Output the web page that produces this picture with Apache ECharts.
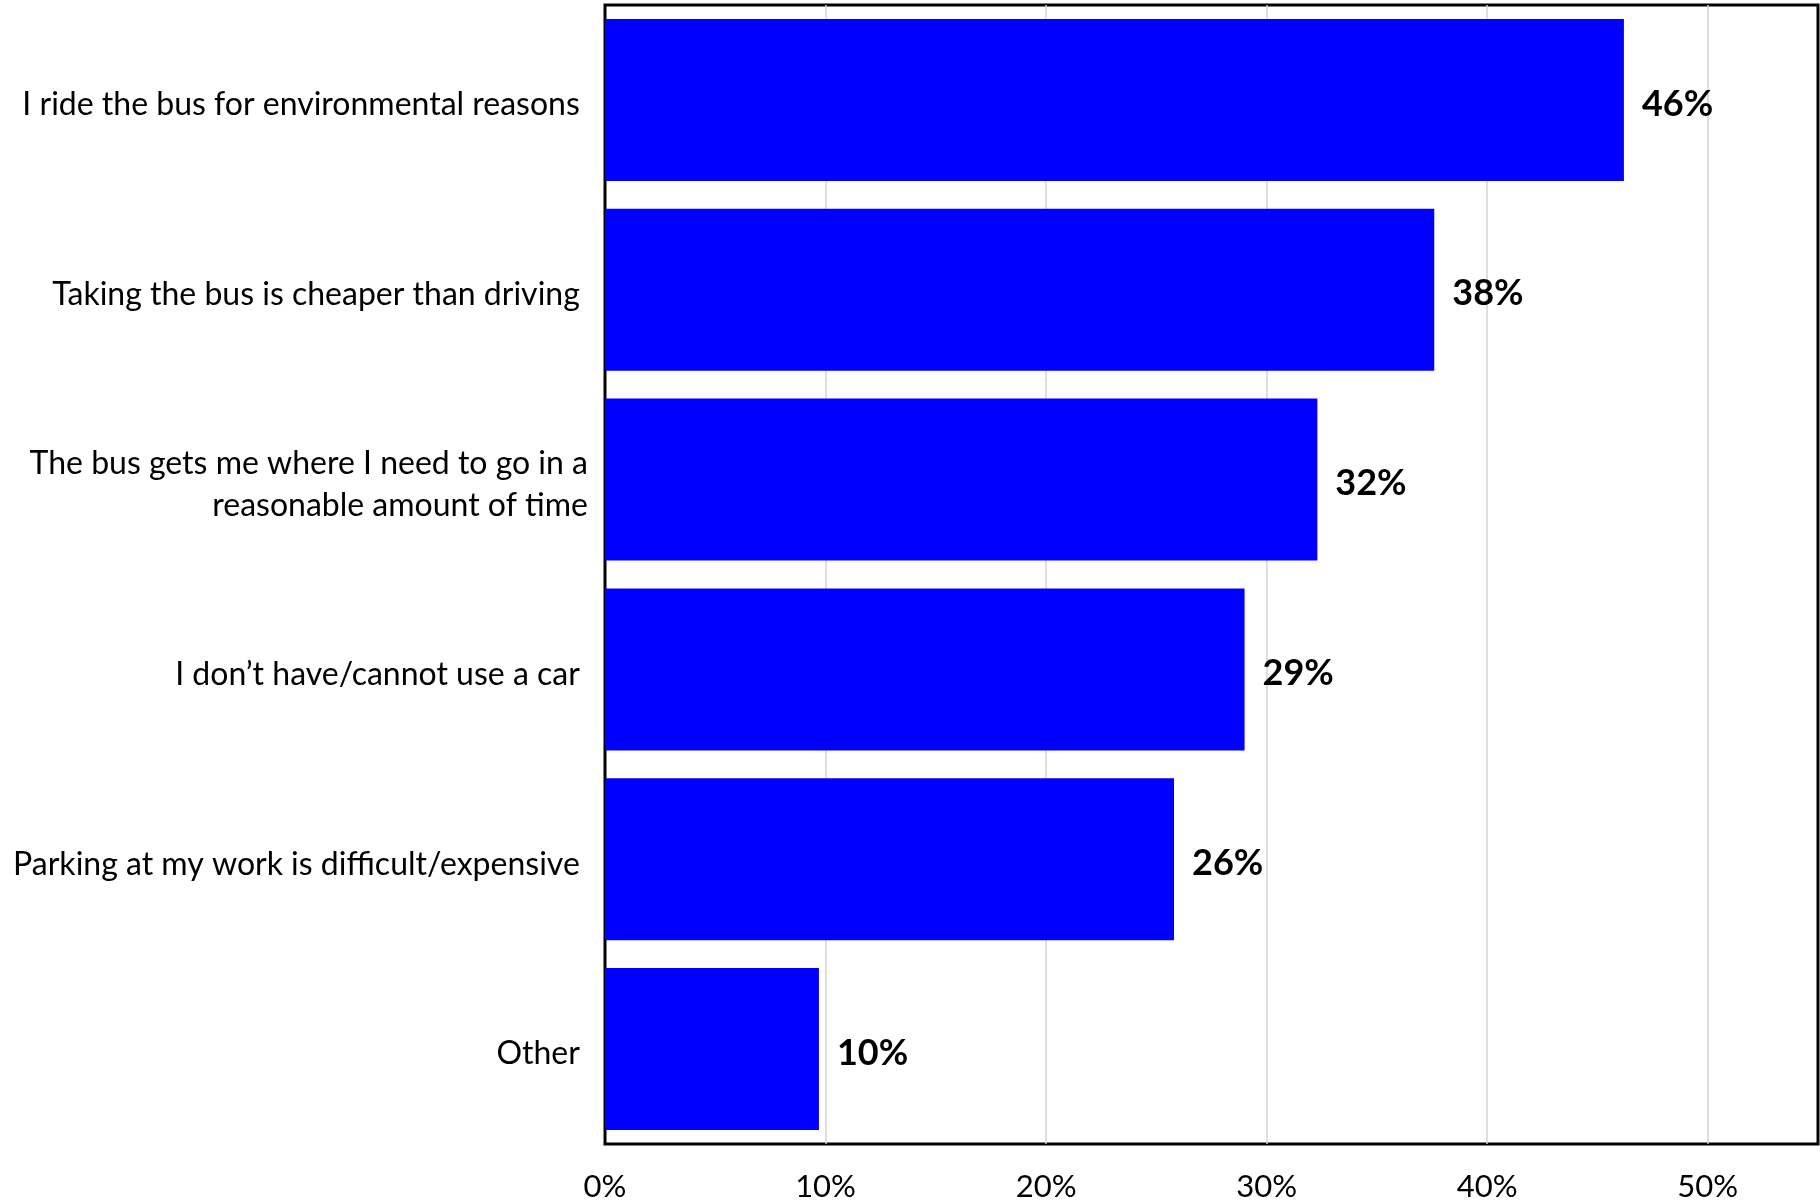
<!DOCTYPE html>
<html>
<head>
<meta charset="utf-8">
<title>Reasons for riding the bus</title>
<script src="https://cdn.jsdelivr.net/npm/echarts@6/dist/echarts.min.js"></script>
<style>
  html, body { margin: 0; padding: 0; background: #fff; }
  #chart { width: 1820px; height: 1202px; }
</style>
</head>
<body>
<div id="chart"></div>
<script>
// Survey reasons (top to bottom)
const categories = [
  'I ride the bus for environmental reasons ',
  'Taking the bus is cheaper than driving ',
  'The bus gets me where I need to go in a\nreasonable amount of time',
  'I don\u2019t have/cannot use a car ',
  'Parking at my work is difficult/expensive ',
  'Other '
];
// Share of respondents, percent
const shares = [46.2, 37.6, 32.3, 29.0, 25.8, 9.7];
// Value axis ticks
const tickMin = 0;
const tickMax = 55;
const tickStep = 10;

const FONT = 'Lato, "Noto Sans", sans-serif';

const chart = echarts.init(document.getElementById('chart'), null, { renderer: 'canvas' });

chart.setOption({
  animation: false,
  backgroundColor: '#ffffff',
  grid: {
    left: 605,
    right: 2,
    top: 5,
    bottom: 55,
    show: true,
    borderColor: '#000000',
    borderWidth: 3,
    backgroundColor: 'transparent'
  },
  xAxis: {
    type: 'value',
    min: tickMin,
    max: tickMax,
    interval: tickStep,
    axisLine: { show: false },
    axisTick: { show: false },
    splitLine: {
      show: true,
      showMinLine: false,
      showMaxLine: false,
      lineStyle: { color: '#d4d4d4', width: 1.5 }
    },
    axisLabel: {
      showMaxLabel: false,
      margin: 27,
      color: '#000',
      fontFamily: FONT,
      fontSize: 31,
      formatter: v => v + '%'
    }
  },
  yAxis: {
    type: 'category',
    inverse: true,
    data: categories,
    axisLine: { show: false },
    axisTick: { show: false },
    splitLine: { show: false },
    axisLabel: {
      margin: 17,
      color: '#000',
      fontFamily: FONT,
      fontSize: 32,
      lineHeight: 42,
      align: 'right',
      formatter: v => v.split('\n').map(line => '{t|' + line + '}').join('\n'),
      rich: {
        t: {
          fontFamily: FONT,
          fontSize: 32,
          color: '#000',
          lineHeight: 42,
          padding: [10, 0, 0, 0]
        }
      }
    }
  },
  series: [{
    type: 'bar',
    data: shares,
    barCategoryGap: '14.7%',
    itemStyle: { color: '#0000ff' },
    label: {
      show: true,
      position: 'right',
      distance: 18,
      offset: [0, 4],
      color: '#000',
      fontFamily: FONT,
      fontWeight: 'bold',
      fontSize: 36,
      formatter: p => Math.round(p.value) + '%'
    }
  }]
});
</script>
</body>
</html>
